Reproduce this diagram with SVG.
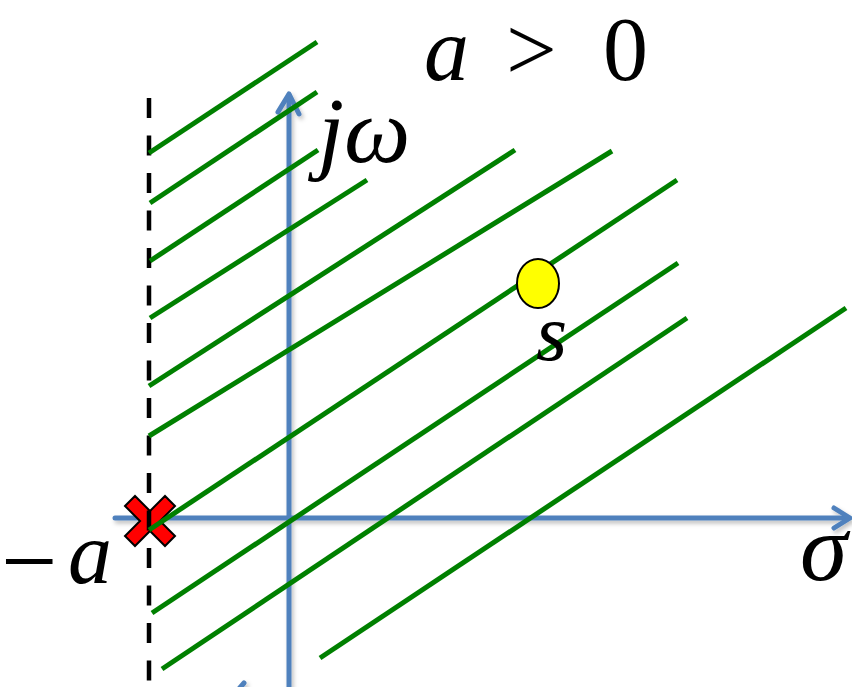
<svg xmlns="http://www.w3.org/2000/svg" width="852" height="687" viewBox="0 0 852 687">
  <defs>
    <filter id="shadow" x="-10%" y="-10%" width="120%" height="120%">
      <feDropShadow dx="2" dy="3" stdDeviation="2" flood-color="#000" flood-opacity="0.25"/>
    </filter>
    <style>
      .axis { stroke: #4F81BD; stroke-width: 5; fill: none; stroke-linecap: round; stroke-linejoin: round; }
      .hatch { stroke: #008000; stroke-width: 5; fill: none; }
      .dash { stroke: #000; stroke-width: 4.5; stroke-dasharray: 20 17.5; fill: none; }
      .math { font-style: italic; }
    </style>
  </defs>
  <rect width="852" height="687" fill="#fff"/>

  <g id="axes" filter="url(#shadow)">
    <line class="axis" x1="289" y1="95" x2="289" y2="690"/>
    <polyline class="axis" points="278,112 289,94 299,114"/>
    <line class="axis" x1="115" y1="518" x2="848" y2="518"/>
    <polyline class="axis" points="834,508 850,518 834,528"/>
    <polyline class="axis" points="238,690 244,683"/>
  </g>

  <g id="pole">
    <polygon points="-25,-15 -15,-25 0,-10 15,-25 25,-15 10,0 25,15 15,25 0,10 -15,25 -25,15 -10,0" transform="translate(150,521)" fill="#FF0000" stroke="#000" stroke-width="2" stroke-linejoin="miter"/>
  </g>

  <g id="boundary">
    <line class="dash" x1="149" y1="98" x2="149" y2="690"/>
  </g>

  <g id="hatching">
    <line class="hatch" x1="149" y1="153" x2="317" y2="42"/>
    <line class="hatch" x1="150" y1="203" x2="317" y2="92"/>
    <line class="hatch" x1="150" y1="261" x2="318" y2="150"/>
    <line class="hatch" x1="150" y1="318" x2="367" y2="180"/>
    <line class="hatch" x1="149" y1="386" x2="515" y2="150"/>
    <line class="hatch" x1="149" y1="436" x2="612" y2="151"/>
    <line class="hatch" x1="149" y1="530" x2="677" y2="180"/>
    <line class="hatch" x1="152" y1="613" x2="678" y2="263"/>
    <line class="hatch" x1="162" y1="669" x2="687" y2="318"/>
    <line class="hatch" x1="320" y1="658" x2="846" y2="308"/>
  </g>

  <g id="point-s">
    <ellipse cx="538" cy="283.5" rx="21" ry="24.5" fill="#FFFF00" stroke="#000" stroke-width="2"/>
  </g>

  <g id="labels" font-family="Liberation Serif, serif" fill="#000">
    <text class="math" x="424" y="80" font-size="90">a</text>
    <text x="506" y="80" font-size="90">&gt;</text>
    <text x="603" y="80" font-size="90">0</text>
    <text class="math" x="318" y="162" font-size="94">jω</text>
    <text class="math" x="536" y="360" font-size="80">s</text>
    <text class="math" x="800" y="580" font-size="96">σ</text>
    <text x="1" y="595" font-size="100">−</text>
    <text class="math" x="68" y="583" font-size="88">a</text>
  </g>
</svg>
